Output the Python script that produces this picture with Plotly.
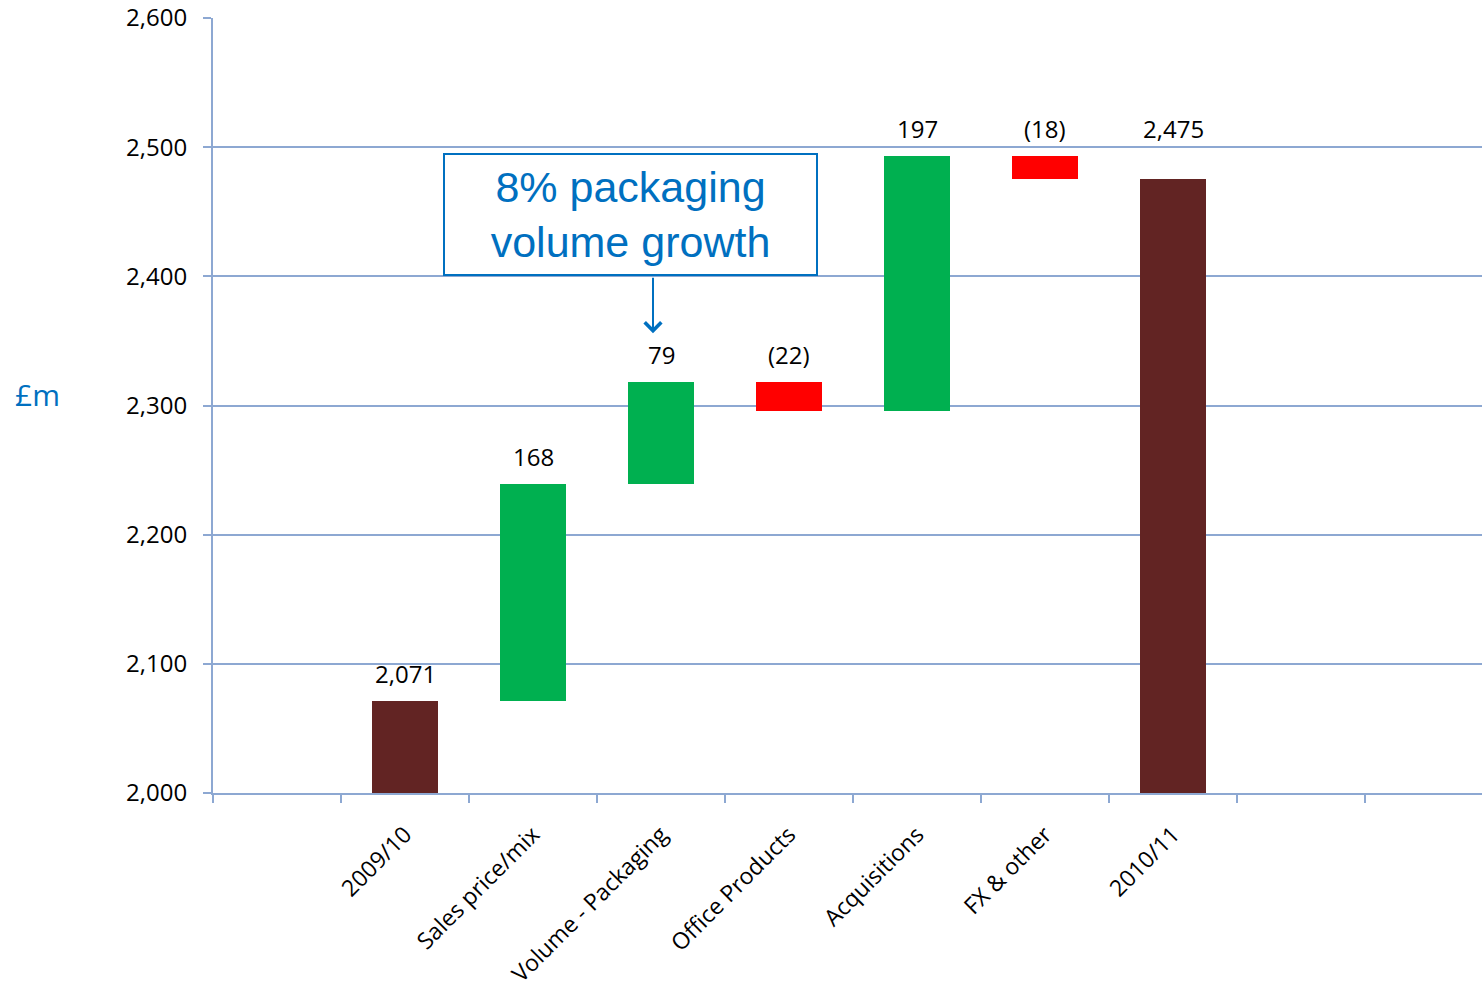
import plotly.graph_objects as go

categories = ["2009/10", "Sales price/mix", "Volume - Packaging", "Office Products",
              "Acquisitions", "FX & other", "2010/11"]
values = [2071, 168, 79, -22, 197, -18, 2475]
kinds = ["total", "delta", "delta", "delta", "delta", "delta", "total"]
labels = ["2,071", "168", "79", "(22)", "197", "(18)", "2,475"]
y_ticks = [2000, 2100, 2200, 2300, 2400, 2500, 2600]
callout_text = "8% packaging<br>volume growth"

BROWN = "#622423"
GREEN = "#00B050"
RED = "#FF0000"
GRID = "#8DA8D2"
BLUE = "#0070C0"
FONT = "Open Sans"

# positions: an empty slot before the first category
xpos = [i + 1 for i in range(len(categories))]

bases, heights, colors, tops = [], [], [], []
running = 0
for v, k in zip(values, kinds):
    if k == "total":
        bases.append(0)
        heights.append(v)
        colors.append(BROWN)
        running = v
    else:
        start = running
        end = running + v
        bases.append(min(start, end))
        heights.append(abs(v))
        colors.append(GREEN if v >= 0 else RED)
        running = end
    tops.append(bases[-1] + heights[-1])

# label level: top of the bar (the last total sits level with its predecessor)
label_level = []
for i, t in enumerate(tops):
    if kinds[i] == "total" and i > 0:
        label_level.append(max(t, tops[i - 1]))
    else:
        label_level.append(t)

fig = go.Figure()
fig.add_trace(go.Bar(
    x=xpos, y=heights, base=bases, marker=dict(color=colors, line=dict(width=0)),
    width=0.51, hoverinfo="skip", showlegend=False,
))

W, H = 1482, 989
ml, mr, mt, mb = 213, 0, 18, 192
pw, ph = W - ml - mr, H - mt - mb

annotations = []
for x, lv, lab in zip(xpos, label_level, labels):
    annotations.append(dict(
        x=x, y=lv, xref="x", yref="y", text=lab, showarrow=False,
        yanchor="middle", yshift=28, font=dict(family=FONT, size=24, color="#000000"),
    ))

# y axis title
annotations.append(dict(
    x=(37 - ml) / pw, y=(H - mb - 396) / ph, xref="paper", yref="paper", text="£m",
    showarrow=False, xanchor="center", yanchor="middle",
    font=dict(family=FONT, size=30, color=BLUE),
))

# callout box
annotations.append(dict(
    x=2.7617, y=2447.5, xref="x", yref="y", text=callout_text, showarrow=False,
    font=dict(family="Liberation Sans", size=43, color=BLUE),
    bordercolor=BLUE, borderwidth=2, borderpad=0, bgcolor="white",
    width=371, height=119, align="center", xanchor="center", yanchor="middle",
))
# callout arrow
annotations.append(dict(
    x=2.9375, y=2356, xref="x", yref="y", ax=2.9375, ay=2400, axref="x", ayref="y",
    text="", showarrow=True, arrowhead=4, arrowsize=1.6, arrowwidth=2, arrowcolor=BLUE,
))

fig.update_layout(
    width=W, height=H,
    margin=dict(l=ml, r=mr, t=mt, b=mb),
    plot_bgcolor="white", paper_bgcolor="white",
    annotations=annotations,
    bargap=0,
    xaxis=dict(
        range=[-0.5, (W - 277) / 128],
        tickmode="array", tickvals=xpos, ticktext=categories,
        tickangle=-45, ticks="", showgrid=False, zeroline=False,
        showline=True, linecolor=GRID, linewidth=2,
        tickfont=dict(family=FONT, size=23, color="#000000"),
        ticklabelstandoff=17,
        minor=dict(tick0=-0.5, dtick=1, ticks="outside", ticklen=8,
                   tickcolor=GRID, tickwidth=2, showgrid=False),
    ),
    yaxis=dict(
        range=[2000, 2600], tickmode="array", tickvals=y_ticks,
        tickformat=",", ticks="outside", ticklen=8, tickcolor=GRID, tickwidth=2,
        showgrid=True, gridcolor=GRID, gridwidth=2, zeroline=False,
        showline=True, linecolor=GRID, linewidth=2,
        tickfont=dict(family=FONT, size=24, color="#000000"),
        ticklabelstandoff=11,
    ),
)

fig.write_html(
    "out.html",
    post_script="document.body.style.margin='0';document.body.style.overflow='hidden';",
    config={"displayModeBar": False},
)
